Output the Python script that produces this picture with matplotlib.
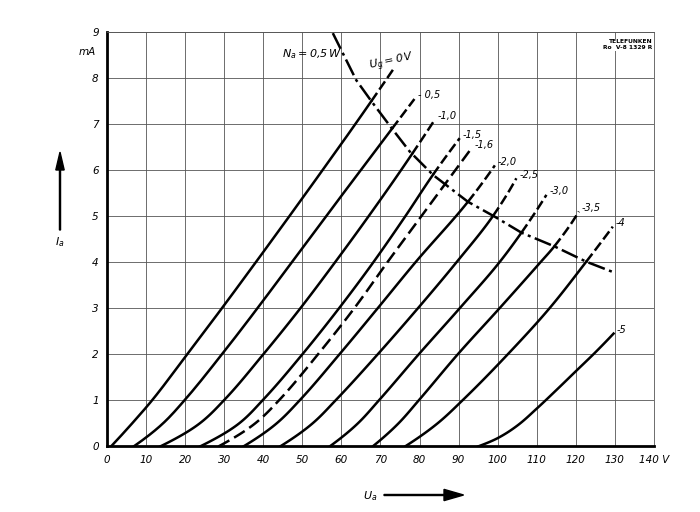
import numpy as np
import matplotlib
matplotlib.use('Agg')
import matplotlib.pyplot as plt
from matplotlib.patches import FancyArrow

plt.rcParams['font.family'] = 'DejaVu Sans'
plt.rcParams['font.style'] = 'italic'
plt.rcParams['mathtext.fontset'] = 'dejavusans'

# anode characteristics: Ua [V] and Ia [mA] per grid voltage
ug_labels = ['0', '- 0,5', '-1,0', '-1,5', '-1,6', '-2,0', '-2,5', '-3,0', '-3,5', '-4', '-5']

ua_0 = [1, 6.4, 11.5, 20.5, 29.4, 38.1, 46.7, 55.2, 63.6, 73.4]
ia_0 = [0, 0.5, 1, 2, 3, 4, 5, 6, 7, 8.2]
ua_05 = [6.8, 14.3, 19.8, 29.4, 38.5, 47.3, 56.1, 65, 73, 78.7]
ia_05 = [0, 0.5, 1, 2, 3, 4, 5, 6, 6.9, 7.54]
ua_10 = [13.6, 23.7, 29.9, 40, 49.5, 58.4, 67, 75.3, 83.9]
ia_10 = [0, 0.5, 1, 2, 3, 4, 5, 6, 7.09]
ua_15 = [23.8, 33.8, 39.8, 50, 59.4, 68.2, 76.4, 83.4, 90.3]
ia_15 = [0, 0.5, 1, 2, 3, 4, 5, 5.89, 6.69]
ua_16 = [28.5, 37.9, 44, 54, 63.3, 71.8, 80.5, 93.3]
ia_16 = [0, 0.5, 1, 2, 3, 4, 5, 6.47]
ua_20 = [34.9, 43.4, 49.3, 59.5, 69.3, 79, 92.4, 99.3]
ia_20 = [0, 0.5, 1, 2, 3, 4, 5.31, 6.1]
ua_25 = [44.3, 52.6, 58.5, 69.3, 79.6, 89.5, 98.8, 104.8]
ia_25 = [0, 0.5, 1, 2, 3, 4, 5, 5.82]
ua_30 = [57, 64.2, 69.6, 79.8, 90.3, 100.5, 106.1, 112.5]
ia_30 = [0, 0.5, 1, 2, 3, 4, 4.64, 5.46]
ua_35 = [68, 74.6, 79.8, 89.8, 100.5, 111, 114.5, 120.8]
ia_35 = [0, 0.5, 1, 2, 3, 4, 4.34, 5.10]
ua_40 = [76.3, 84.6, 91, 102.6, 113.3, 122.7, 129.5]
ia_40 = [0, 0.5, 1, 2, 3, 4.01, 4.77]
ua_50 = [95, 100, 105, 110, 115, 120, 125, 129.7]
ia_50 = [0, 0.18, 0.45, 0.82, 1.22, 1.63, 2.04, 2.45]

# max. anode dissipation Na = 0,5 W
na_ua = [57.8, 63.8, 67.7, 73.2, 77.5, 83.5, 92.4, 99.2, 106.1, 114.6, 122.7, 130]
na_ia = [8.97, 7.95, 7.49, 6.87, 6.4, 5.89, 5.31, 4.99, 4.64, 4.34, 4.01, 3.77]

curves = [(ua_0, ia_0), (ua_05, ia_05), (ua_10, ia_10), (ua_15, ia_15),
          (ua_16, ia_16), (ua_20, ia_20), (ua_25, ia_25), (ua_30, ia_30),
          (ua_35, ia_35), (ua_40, ia_40), (ua_50, ia_50)]


def pchip(x, y, n=16):
    # monotone cubic through the read points (Ua as function of Ia), only for drawing
    x = np.asarray(x, float)
    y = np.asarray(y, float)
    h = np.diff(x)
    dl = np.diff(y) / h
    d = np.zeros(len(x))
    for k in range(1, len(x) - 1):
        if dl[k - 1] * dl[k] > 0:
            w1 = 2 * h[k] + h[k - 1]
            w2 = h[k] + 2 * h[k - 1]
            d[k] = (w1 + w2) / (w1 / dl[k - 1] + w2 / dl[k])
    d[0] = max(((2 * h[0] + h[1]) * dl[0] - h[0] * dl[1]) / (h[0] + h[1]), 0)
    d[-1] = max(((2 * h[-1] + h[-2]) * dl[-1] - h[-1] * dl[-2]) / (h[-1] + h[-2]), 0)
    xs, ys = [], []
    for k in range(len(x) - 1):
        t = np.linspace(0, 1, n, endpoint=False)
        h00 = 2 * t ** 3 - 3 * t ** 2 + 1
        h10 = t ** 3 - 2 * t ** 2 + t
        h01 = -2 * t ** 3 + 3 * t ** 2
        h11 = t ** 3 - t ** 2
        xs.append(x[k] + t * h[k])
        ys.append(h00 * y[k] + h10 * h[k] * d[k] + h01 * y[k + 1] + h11 * h[k] * d[k + 1])
    xs.append([x[-1]])
    ys.append([y[-1]])
    return np.concatenate(xs), np.concatenate(ys)


def split_at_load(ua, ia):
    d = ia - np.interp(ua, na_ua, na_ia)
    above = np.where(d > 0)[0]
    if len(above) == 0:
        return (ua, ia), None
    k = above[0]
    t = d[k - 1] / (d[k - 1] - d[k])
    pu = ua[k - 1] + t * (ua[k] - ua[k - 1])
    pi = ia[k - 1] + t * (ia[k] - ia[k - 1])
    solid = (np.append(ua[:k], pu), np.append(ia[:k], pi))
    dash = (np.insert(ua[k:], 0, pu), np.insert(ia[k:], 0, pi))
    return solid, dash


fig = plt.figure(figsize=(7, 5.12), dpi=100)
ax = fig.add_axes([0.153, 0.128, 0.781, 0.81])

ax.set_xlim(0, 140)
ax.set_ylim(0, 9)
ax.set_xticks(range(0, 141, 10))
ax.set_yticks(range(0, 10))
ax.grid(True, color='#555555', linewidth=0.6)
ax.tick_params(length=0, pad=6)
ax.set_xticklabels([str(v) for v in range(0, 140, 10)] + ['140 V'], fontsize=7.5, style='italic')
ax.set_yticklabels([str(v) for v in range(0, 10)], fontsize=7.5, style='italic')
for s in ['left', 'bottom']:
    ax.spines[s].set_linewidth(2)
for s in ['right', 'top']:
    ax.spines[s].set_linewidth(0.6)
    ax.spines[s].set_color('#555555')

lw = 1.8
for n, (ua, ia) in enumerate(curves):
    si, su = pchip(ia, ua)
    solid, dash = split_at_load(su, si)
    if ug_labels[n] == '-1,6':
        ax.plot(su, si, color='black', lw=lw, dashes=(5, 2.2))
    else:
        ax.plot(solid[0], solid[1], color='black', lw=lw)
        if dash is not None:
            ax.plot(dash[0], dash[1], color='black', lw=lw, dashes=(4, 1.6))
    if n > 0:
        ax.text(ua[-1] + 0.8, ia[-1] + 0.08, ug_labels[n], fontsize=7,
                ha='left', va='center')

ax.plot(na_ua, na_ia, color='black', lw=lw, dashes=(7, 1.8, 1.2, 1.8))

ax.text(73, 8.33, r'$U_g = 0\,V$', fontsize=8, ha='center', va='center', rotation=12)
ax.text(52.5, 8.52, r'$N_a = 0{,}5\,W$', fontsize=8, ha='center', va='center')
ax.text(139.6, 8.72, 'TELEFUNKEN\nRo  V-8 1329 R', fontsize=4.3, ha='right', va='center',
        style='normal', weight='bold', linespacing=1.1,
        bbox=dict(facecolor='white', edgecolor='none', pad=0.6))
ax.text(-2.9, 8.55, 'mA', fontsize=7.5, ha='right', va='center')

# axis names with arrows
fig.text(60 / 700, 1 - 242 / 512, r'$I_a$', fontsize=8, ha='center', va='center')
fig.patches.append(FancyArrow(
    60 / 700, 1 - 230 / 512, 0, 60 / 512, width=0.0015, head_width=0.012,
    head_length=0.035, color='black', transform=fig.transFigure, figure=fig))
fig.text(370 / 700, 1 - 496 / 512, r'$U_a$', fontsize=8, ha='center', va='center')
fig.patches.append(FancyArrow(
    384 / 700, 1 - 495 / 512, 60 / 700, 0, width=0.002, head_width=0.022,
    head_length=0.028, color='black', transform=fig.transFigure, figure=fig))

fig.savefig('out.png', dpi=100)
